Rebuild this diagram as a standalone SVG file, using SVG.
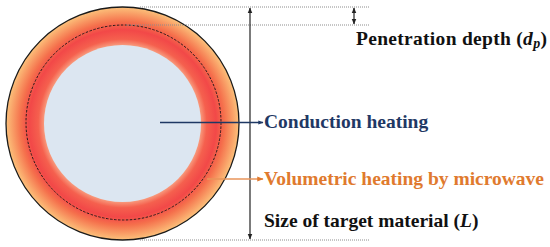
<svg xmlns="http://www.w3.org/2000/svg" width="550" height="247" viewBox="0 0 550 247">
<style>
.guide{stroke:#8c8c8c;stroke-width:1;stroke-dasharray:1 1;fill:none}
.dim{stroke:#222;stroke-width:1.2;fill:none}
.lbl{font-family:'Liberation Serif','DejaVu Serif','Times New Roman',serif;font-weight:700;font-size:19.5px}
</style>
<defs>
<radialGradient id="ring" gradientUnits="userSpaceOnUse" cx="122.5" cy="123.5" r="117">
<stop offset="0.66" stop-color="#f9a585"/>
<stop offset="0.72" stop-color="#f5604e"/>
<stop offset="0.80" stop-color="#f24848"/>
<stop offset="0.87" stop-color="#f5704c"/>
<stop offset="1" stop-color="#fcc47c"/>
</radialGradient>
<marker id="ah" viewBox="0 0 10 10" refX="9" refY="5" markerWidth="5" markerHeight="5" orient="auto-start-reverse">
<path d="M0,1 L10,5 L0,9 z" fill="#222"/>
</marker>
<marker id="ab" viewBox="0 0 10 10" refX="9" refY="5" markerWidth="4" markerHeight="4" orient="auto">
<path d="M0,1 L10,5 L0,9 z" fill="#1f3864"/>
</marker>
<marker id="ao" viewBox="0 0 10 10" refX="9" refY="5" markerWidth="4" markerHeight="4" orient="auto">
<path d="M0,1 L10,5 L0,9 z" fill="#e07a2e"/>
</marker>
</defs>
<g id="particle">
<circle cx="122.5" cy="123.5" r="116.5" fill="url(#ring)" stroke="#1a1a1a" stroke-width="1.3"/>
<circle cx="123.5" cy="122.5" r="97.5" fill="none" stroke="#2a1a1a" stroke-width="1" stroke-dasharray="2.5 1.5"/>
<circle cx="122.5" cy="123.5" r="78.5" fill="#dce6f1"/>
</g>
<g id="connectors">
<line class="guide" x1="140" y1="7" x2="369" y2="7"/>
<line class="guide" x1="126" y1="25" x2="369" y2="25"/>
<line class="guide" x1="140" y1="240" x2="369" y2="240"/>
<line class="dim" x1="250" y1="8" x2="250" y2="239" marker-start="url(#ah)" marker-end="url(#ah)"/>
<line class="dim" x1="354" y1="8" x2="354" y2="24" stroke-width="1" marker-start="url(#ah)" marker-end="url(#ah)"/>
<line x1="160" y1="122.5" x2="263" y2="122.5" stroke="#1f3864" stroke-width="1.3" marker-end="url(#ab)"/>
<line x1="207" y1="179" x2="263" y2="179" stroke="#e8955a" stroke-width="1.6" marker-end="url(#ao)"/>
</g>
<g id="label-penetration"><text class="lbl" x="356" y="45" fill="#111" letter-spacing="0.3">Penetration depth (<tspan font-style="italic">d</tspan><tspan font-style="italic" font-size="14px" dy="3">p</tspan><tspan dy="-3">)</tspan></text></g>
<g id="label-conduction"><text class="lbl" x="264" y="128" fill="#1f3864">Conduction heating</text></g>
<g id="label-volumetric"><text class="lbl" x="264" y="185" fill="#e07a2e">Volumetric heating by microwave</text></g>
<g id="label-size"><text class="lbl" x="264" y="227" fill="#111">Size of target material (<tspan font-style="italic">L</tspan>)</text></g>
</svg>
